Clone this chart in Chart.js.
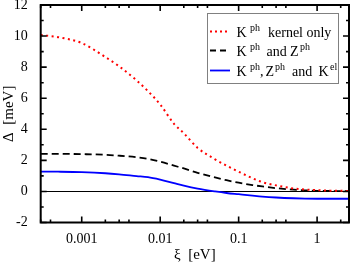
<!DOCTYPE html>
<html>
<head>
<meta charset="utf-8">
<script src="https://cdn.jsdelivr.net/npm/chart.js@4/dist/chart.umd.min.js"></script>
<style>
html,body{margin:0;padding:0;background:#fff;}
canvas{display:block;}
</style>
</head>
<body>
<canvas id="c" width="353" height="262"></canvas>
<script>
// ---- data ----
const xiValues = [3e-4, 5e-4, 1e-3, 2e-3, 3e-3, 5e-3, 7e-3, 0.01, 0.015, 0.02, 0.03, 0.05, 0.07, 0.1, 0.15, 0.2, 0.3, 0.5, 0.7, 1, 1.5, 2, 2.5];
const kernelOnly = [10.07, 9.93, 9.55, 8.65, 8.05, 7.15, 6.45, 5.6, 4.35, 3.75, 2.8, 2.07, 1.66, 1.27, 0.85, 0.6, 0.39, 0.19, 0.12, 0.08, 0.05, 0.04, 0.03];
const kAndZ = [2.42, 2.42, 2.40, 2.36, 2.30, 2.2, 2.1, 1.92, 1.66, 1.48, 1.2, 0.9, 0.72, 0.56, 0.41, 0.32, 0.21, 0.11, 0.07, 0.04, 0.03, 0.02, 0.02];
const kZAndKel = [1.28, 1.27, 1.24, 1.17, 1.1, 0.99, 0.92, 0.76, 0.53, 0.37, 0.18, 0.0, -0.1, -0.18, -0.27, -0.33, -0.39, -0.44, -0.46, -0.47, -0.47, -0.47, -0.47];
const xTickLabels = [0.001, 0.01, 0.1, 1];
const yTickLabels = [-2, 0, 2, 4, 6, 8, 10, 12];
const xMinorMultipliers = [2, 3, 4];

const serif = "'Liberation Serif', 'DejaVu Serif', serif";
const pts = ys => xiValues.map((x, i) => ({x: x, y: ys[i]}));

const frameAndTicks = {
  id: 'frameAndTicks',
  beforeDatasetsDraw(chart) {
    const {ctx, chartArea: a, scales: {y}} = chart;
    ctx.save();
    ctx.strokeStyle = '#000';
    ctx.lineWidth = 1;
    const y0 = Math.round(y.getPixelForValue(0)) + 0.5;
    ctx.beginPath(); ctx.moveTo(a.left, y0); ctx.lineTo(a.right, y0); ctx.stroke();
    ctx.restore();
  },
  afterDatasetsDraw(chart) {
    const {ctx, chartArea: a, scales: {x, y}} = chart;
    ctx.save();
    ctx.strokeStyle = '#000';
    ctx.lineWidth = 1.6;
    const majL = 6, minL = 3;
    ctx.beginPath();
    for (let k = -4; k <= 1; k++) {
      const base = Math.pow(10, k);
      const vals = [[base, majL]].concat(xMinorMultipliers.map(m => [m * base, minL]));
      vals.forEach(([v, L]) => {
        if (v < x.min || v > x.max) return;
        const px = x.getPixelForValue(v);
        ctx.moveTo(px, a.bottom); ctx.lineTo(px, a.bottom - L);
        ctx.moveTo(px, a.top); ctx.lineTo(px, a.top + L);
      });
    }
    for (let v = -2; v <= 12; v += 1) {
      const L = (v % 2 === 0) ? majL : minL;
      const py = y.getPixelForValue(v);
      ctx.moveTo(a.left, py); ctx.lineTo(a.left + L, py);
      ctx.moveTo(a.right, py); ctx.lineTo(a.right - L, py);
    }
    ctx.stroke();
    ctx.lineWidth = 2;
    ctx.strokeRect(a.left, a.top, a.right - a.left, a.bottom - a.top);
    ctx.restore();
  }
};

const legendPlugin = {
  id: 'customLegend',
  afterDraw(chart) {
    const ctx = chart.ctx;
    ctx.save();
    ctx.fillStyle = '#fff';
    ctx.fillRect(207, 13, 131, 70);
    ctx.strokeStyle = '#808080';
    ctx.lineWidth = 1;
    ctx.strokeRect(207.5, 13.5, 131, 70);
    const rows = [
      {y: 31.5, color: '#ff0000', dash: [2, 3], width: 2,
       parts: [['K', 236.5], ['ph', 250, 1], ['kernel only', 268]]},
      {y: 50.5, color: '#000', dash: [6, 4], width: 1.8,
       parts: [['K', 236.5], ['ph', 250, 1], ['and', 266.5], ['Z', 290], ['ph', 300, 1]]},
      {y: 70.5, color: '#0000ff', dash: [], width: 1.8,
       parts: [['K', 236.5], ['ph', 250, 1], [',', 260], ['Z', 265.5], ['ph', 275, 1], ['and', 292], ['K', 318.5], ['el', 330, 1]]}
    ];
    rows.forEach(r => {
      ctx.strokeStyle = r.color;
      ctx.lineWidth = r.width;
      ctx.setLineDash(r.dash);
      ctx.beginPath(); ctx.moveTo(210, r.y); ctx.lineTo(230, r.y); ctx.stroke();
      ctx.setLineDash([]);
      ctx.fillStyle = '#000';
      ctx.textBaseline = 'alphabetic';
      r.parts.forEach(([t, px, sup]) => {
        ctx.font = sup ? ('10px ' + serif) : ('14px ' + serif);
        ctx.fillText(t, px, sup ? r.y - 1 : r.y + 5);
      });
    });
    ctx.restore();
  }
};

new Chart(document.getElementById('c'), {
  type: 'line',
  data: {
    datasets: [
      {label: 'K^ph kernel only', data: pts(kernelOnly), borderColor: '#ff0000', borderWidth: 2, borderDash: [2, 3.5], pointRadius: 0, cubicInterpolationMode: 'monotone', fill: false},
      {label: 'K^ph and Z^ph', data: pts(kAndZ), borderColor: '#000000', borderWidth: 1.8, borderDash: [7, 4], pointRadius: 0, cubicInterpolationMode: 'monotone', fill: false},
      {label: 'K^ph, Z^ph and K^el', data: pts(kZAndKel), borderColor: '#0000ff', borderWidth: 1.8, pointRadius: 0, cubicInterpolationMode: 'monotone', fill: false}
    ]
  },
  options: {
    responsive: false,
    animation: false,
    devicePixelRatio: 1,
    layout: {padding: {top: 5, right: 4, left: 0, bottom: 0}},
    plugins: {legend: {display: false}, tooltip: {enabled: false}},
    scales: {
      x: {
        type: 'logarithmic', min: 3.1e-4, max: 2.55,
        grid: {display: false}, border: {display: false},
        ticks: {color: '#000', font: {family: serif, size: 14}, padding: 0, maxRotation: 0, autoSkip: false,
                callback: v => String(v)},
        afterBuildTicks: s => { s.ticks = xTickLabels.map(v => ({value: v})); },
        afterFit: s => { s.height = 39.5; s.paddingLeft = 0; s.paddingRight = 0; },
        title: {display: true, text: 'ξ  [eV]', color: '#000', font: {family: serif, size: 15, lineHeight: 0.9}, padding: {top: 0, bottom: 0}}
      },
      y: {
        type: 'linear', min: -2, max: 12,
        grid: {display: false}, border: {display: false},
        ticks: {color: '#000', font: {family: serif, size: 14}, padding: 5, stepSize: 2},
        afterBuildTicks: s => { s.ticks = yTickLabels.map(v => ({value: v})); },
        afterFit: s => { s.width = 40.7; s.paddingTop = 0; s.paddingBottom = 0; },
        title: {display: true, text: 'Δ  [meV]', color: '#000', font: {family: serif, size: 15, lineHeight: 1}, padding: {top: 2, bottom: 0}}
      }
    }
  },
  plugins: [frameAndTicks, legendPlugin]
});
</script>
</body>
</html>
